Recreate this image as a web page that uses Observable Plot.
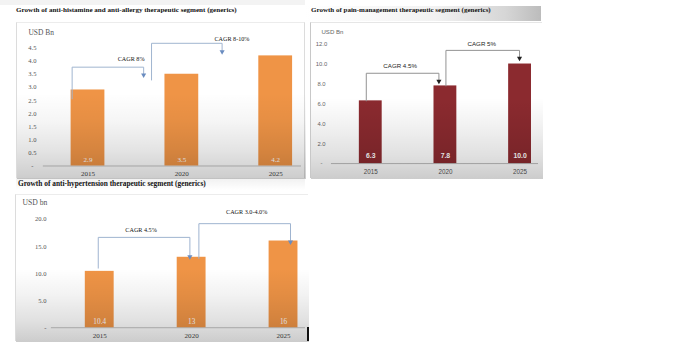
<!DOCTYPE html>
<html><head><meta charset="utf-8">
<script src="https://cdn.jsdelivr.net/npm/d3@7"></script>
<script src="https://cdn.jsdelivr.net/npm/@observablehq/plot@0.6"></script>
<style>
body{margin:0;background:#fff;}
#wrap{position:relative;width:690px;height:354px;overflow:hidden;background:#fff;}
.title{position:absolute;font-family:"Liberation Serif",serif;font-weight:bold;color:#111;white-space:nowrap;line-height:1;}
.box{position:absolute;}
.shade{position:absolute;pointer-events:none;}
</style></head><body><div id="wrap"></div>
<script>
// ---------- data ----------
const years = ["2015", "2020", "2025"];

const allergyTitle = "Growth of anti-histamine and anti-allergy therapeutic segment (generics)";
const allergyUnit = "USD Bn";
const allergyValues = [2.9, 3.5, 4.2];
const allergyLabels = ["2.9", "3.5", "4.2"];
const allergyTicks = [0, 0.5, 1, 1.5, 2, 2.5, 3, 3.5, 4, 4.5];
const allergyCagr = ["CAGR 8%", "CAGR 8-10%"];

const painTitle = "Growth of pain-management therapeutic segment (generics)";
const painUnit = "USD Bn";
const painValues = [6.3, 7.8, 10.0];
const painLabels = ["6.3", "7.8", "10.0"];
const painTicks = [0, 2, 4, 6, 8, 10, 12];
const painCagr = ["CAGR 4.5%", "CAGR 5%"];

const htnTitle = "Growth of anti-hypertension therapeutic segment (generics)";
const htnUnit = "USD bn";
const htnValues = [10.4, 13, 16];
const htnLabels = ["10.4", "13", "16"];
const htnTicks = [0, 5, 10, 15, 20];
const htnCagr = ["CAGR 4.5%", "CAGR 3.0-4.0%"];

// ---------- layout ----------
const wrap = document.getElementById("wrap");

function addTitle(text, left, cy, w) {
  const el = document.createElement("div");
  el.className = "title";
  el.textContent = text;
  el.style.fontSize = "8px";
  el.style.left = left + "px";
  wrap.appendChild(el);
  const r = el.getBoundingClientRect().width;
  const fs = 8 * w / r;
  el.style.fontSize = fs + "px";
  el.style.top = (cy - fs * 0.55) + "px";
}

function panel(o) {
  const box = document.createElement("div");
  box.className = "box";
  Object.assign(box.style, {left: o.left + "px", top: o.top + "px", width: o.width + "px", height: o.height + "px"});
  wrap.appendChild(box);
  const pts = [];
  o.conn.forEach((c, k) => {
    pts.push({x: c.x1, y: c.y0, k}, {x: c.x1, y: c.level, k}, {x: c.x2, y: c.level, k}, {x: c.x2, y: c.tip, k});
  });
  const svg = Plot.plot({
    width: o.width, height: o.height,
    marginLeft: o.mL, marginRight: o.mR, marginTop: o.mT, marginBottom: o.mB,
    x: {domain: o.xd, axis: null},
    y: {domain: o.yd, axis: null},
    style: {background: "transparent", fontFamily: o.font, overflow: "visible"},
    marks: [
      Plot.ruleY([0], {stroke: o.axisColor, strokeWidth: 0.9}),
      Plot.rectY(o.values, {x1: (d, i) => i - o.hw, x2: (d, i) => i + o.hw, y1: () => 0, y2: d => d, fill: o.barColor}),
      Plot.text(o.labels, {x: (d, i) => i, y: () => 0, dy: o.valDy, text: d => d, fill: "#fff", fontSize: o.valFs, fontWeight: o.valFw, lineAnchor: "middle"}),
      Plot.text(years, {x: (d, i) => i, y: () => 0, dy: o.xDy, text: d => d, fill: o.xColor, fontSize: o.xFs, lineAnchor: "middle"}),
      Plot.text(o.ticks, {y: d => d, frameAnchor: "left", dx: o.yDx, textAnchor: o.yAnchor, lineAnchor: "middle", text: o.fmt, fill: o.tickColor, fontSize: o.yFs}),
      Plot.text([o.unit], {frameAnchor: "top-left", dx: o.uDx, dy: o.uDy, textAnchor: "start", lineAnchor: "middle", text: d => d, fill: o.tickColor, fontSize: o.uFs}),
      Plot.line(pts, {x: "x", y: "y", z: "k", stroke: o.lineColor, strokeWidth: 1}),
      Plot.dot(o.conn, {x: "x2", y: "tip", symbol: "triangle", rotate: 180, r: 1.9, fill: o.arrowColor, stroke: "none"}),
      Plot.text(o.conn, {x: "lx", y: "ly", text: (d, i) => o.cagr[i], fill: o.cagrColor, fontSize: o.cagrFs, lineAnchor: "middle"})
    ]
  });
  svg.style.position = "absolute";
  svg.style.left = "0px";
  svg.style.top = "0px";
  box.appendChild(svg);
  const sh = document.createElement("div");
  sh.className = "shade";
  Object.assign(sh.style, {left: "0px", top: "0px", width: o.width + "px", height: o.height + "px", background: o.shade});
  box.appendChild(sh);
  if (o.border) Object.assign(box.style, o.border);
  return box;
}

const serif = '"Liberation Serif", serif';
const sans = '"Liberation Sans", Arial, sans-serif';
const dash = (f) => d => d === 0 ? "-" : d.toFixed(f);

// top strip
const strip = document.createElement("div");
Object.assign(strip.style, {position: "absolute", left: "0px", top: "0px", width: "305px", height: "5px", background: "#f3f3f3"});
wrap.appendChild(strip);

// Panel 1
panel({
  left: 16, top: 22, width: 289, height: 156,
  mL: 26, mR: 3, mT: 11.5, mB: 12.5,
  xd: [-0.476, 2.275], yd: [0, 5],
  values: allergyValues, labels: allergyLabels, ticks: allergyTicks, cagr: allergyCagr, unit: allergyUnit,
  hw: 0.18, barColor: "#ef9446", font: serif,
  valDy: -6.5, valFs: 7.1, valFw: "normal",
  xDy: 7.5, xFs: 7.1, xColor: "#444",
  yDx: -11, yAnchor: "middle", fmt: dash(1), tickColor: "#555", yFs: 6.6,
  uDx: -15, uDy: -2.5, uFs: 7.5,
  axisColor: "#bcbcbc", lineColor: "#9fb4d0", arrowColor: "#6a8cc0", cagrColor: "#111", cagrFs: 6.2,
  conn: [
    {x1: -0.169, x2: 0.593, y0: 2.56, level: 3.77, tip: 3.47, lx: 0.46, ly: 4.07},
    {x1: 0.677, x2: 1.429, y0: 3.28, level: 4.68, tip: 4.36, lx: 1.534, ly: 4.83}
  ],
  shade: "linear-gradient(to bottom, rgba(0,0,0,0) 45%, rgba(0,0,0,0.04) 63%, rgba(0,0,0,0.11) 82%, rgba(0,0,0,0.2) 100%)",
  border: {borderLeft: "1px solid #dcdcdc", borderTop: "1px solid #ececec", borderRight: "1px solid #dcdcdc", boxSizing: "border-box"}
});

// Panel 2 title bar
const bar2 = document.createElement("div");
Object.assign(bar2.style, {position: "absolute", left: "305px", top: "6px", width: "236px", height: "15px",
  background: "linear-gradient(to right, #ffffff 0%, #f2f2f2 55%, #d6d6d6 85%, #bcbcbc 100%)"});
wrap.appendChild(bar2);

// Panel 2
panel({
  left: 310, top: 22, width: 232, height: 156,
  mL: 20, mR: 4, mT: 5.7, mB: 15.3,
  xd: [-0.527, 2.247], yd: [0, 13.5],
  values: painValues, labels: painLabels, ticks: painTicks, cagr: painCagr, unit: painUnit,
  hw: 0.153, barColor: "#8b2a2f", font: sans,
  valDy: -7.7, valFs: 6.9, valFw: "bold",
  xDy: 8.3, xFs: 6.3, xColor: "#555",
  yDx: -10, yAnchor: "middle", fmt: dash(1), tickColor: "#666", yFs: 5.9,
  uDx: -10, uDy: 3.3, uFs: 6.1,
  axisColor: "#b5b5b5", lineColor: "#929292", arrowColor: "#222", cagrColor: "#222", cagrFs: 6.2,
  conn: [
    {x1: -0.06, x2: 0.913, y0: 6.3, level: 9.07, tip: 8.27, lx: 0.393, ly: 9.77},
    {x1: 1.007, x2: 1.993, y0: 7.8, level: 11.37, tip: 10.57, lx: 1.487, ly: 11.97}
  ],
  shade: "linear-gradient(to bottom, rgba(0,0,0,0) 48%, rgba(0,0,0,0.05) 65%, rgba(0,0,0,0.12) 85%, rgba(0,0,0,0.2) 100%)",
  border: {borderLeft: "1px solid #c8c8c8", borderTop: "1px solid #e6e6e6", boxSizing: "border-box"}
});

// gap gradient under panel 1
const gap = document.createElement("div");
Object.assign(gap.style, {position: "absolute", left: "16px", top: "178px", width: "289px", height: "12px",
  background: "linear-gradient(to bottom, rgba(0,0,0,0.06), rgba(0,0,0,0))"});
wrap.appendChild(gap);

// Panel 3
panel({
  left: 15, top: 194, width: 293, height: 147,
  mL: 35, mR: 3, mT: 7.6, mB: 14.3,
  xd: [-0.526, 2.239], yd: [0, 23],
  values: htnValues, labels: htnLabels, ticks: htnTicks, cagr: htnCagr, unit: htnUnit,
  hw: 0.157, barColor: "#ef9446", font: serif,
  valDy: -6, valFs: 7.3, valFw: "normal",
  xDy: 8.3, xFs: 7.1, xColor: "#444",
  yDx: -5, yAnchor: "end", fmt: dash(1), tickColor: "#555", yFs: 6.6,
  uDx: -29, uDy: -0.6, uFs: 7.7,
  axisColor: "#bcbcbc", lineColor: "#9fb4d0", arrowColor: "#6a8cc0", cagrColor: "#111", cagrFs: 6.2,
  conn: [
    {x1: -0.016, x2: 0.981, y0: 11.0, level: 16.67, tip: 13.1, lx: 0.45, ly: 18.0},
    {x1: 1.079, x2: 2.076, y0: 12.8, level: 19.2, tip: 15.8, lx: 1.599, ly: 21.4}
  ],
  shade: "linear-gradient(to bottom, rgba(0,0,0,0) 50%, rgba(0,0,0,0.05) 68%, rgba(0,0,0,0.12) 86%, rgba(0,0,0,0.2) 100%)",
  border: {borderLeft: "1px solid #dcdcdc", borderTop: "1px solid #ececec", boxSizing: "border-box"}
});
const edge = document.createElement("div");
Object.assign(edge.style, {position: "absolute", left: "307px", top: "327px", width: "1.5px", height: "14px", background: "#111"});
wrap.appendChild(edge);

addTitle(allergyTitle, 16, 11, 221);
addTitle(painTitle, 311, 10.5, 180);
addTitle(htnTitle, 18, 184, 188);
</script></body></html>
